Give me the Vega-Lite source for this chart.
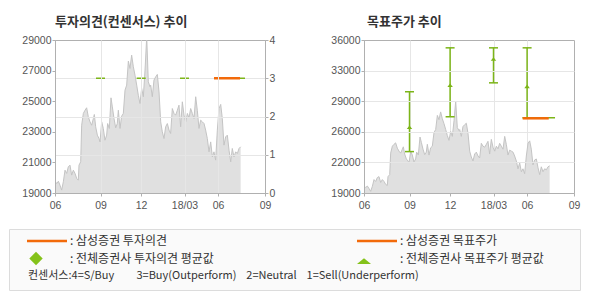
{
  "$schema": "https://vega.github.io/schema/vega-lite/v6.json",
  "background": "white",
  "padding": {"left": 8, "top": 15, "right": 4, "bottom": 4},
  "autosize": {"type": "pad"},
  "config": {
    "view": {"stroke": null},
    "font": "Noto Sans CJK KR",
    "axis": {
      "labelFont": "Liberation Sans",
      "labelFontSize": 10.5,
      "labelColor": "#555555",
      "domainColor": "#b0b0b0",
      "tickColor": "#b0b0b0",
      "tickSize": 3,
      "labelPadding": 1,
      "gridColor": "#e6e6e6",
      "labelOverlap": false,
      "labelBound": false,
      "tickCount": 10,
      "title": null
    },
    "axisX": {"labelFlush": false, "labelPadding": 4},
    "title": {"font": "Noto Sans CJK KR", "fontSize": 13, "fontWeight": "bold", "color": "#333333", "anchor": "start", "frame": "group", "baseline": "alphabetic", "offset": 6}
  },
  "datasets": {
    "price": [
      {"t": 0, "price": 19770}, {"t": 2.4, "price": 19620}, {"t": 4.8, "price": 19770}, {"t": 7.1, "price": 19510},
      {"t": 9.5, "price": 19190}, {"t": 11.9, "price": 19730}, {"t": 14.3, "price": 20490}, {"t": 16.7, "price": 20280},
      {"t": 19.0, "price": 20710}, {"t": 21.4, "price": 20820}, {"t": 23.8, "price": 20170}, {"t": 26.2, "price": 20490},
      {"t": 28.6, "price": 20280}, {"t": 31.0, "price": 19950}, {"t": 33.3, "price": 19840}, {"t": 34.3, "price": 20820},
      {"t": 36.7, "price": 21040}, {"t": 38.1, "price": 23430}, {"t": 40.5, "price": 24200}, {"t": 42.9, "price": 24410},
      {"t": 45.2, "price": 24570}, {"t": 47.6, "price": 23980}, {"t": 50.0, "price": 23650}, {"t": 52.4, "price": 23430},
      {"t": 54.8, "price": 23870}, {"t": 56.2, "price": 24130}, {"t": 58.1, "price": 23330}, {"t": 60.5, "price": 22780},
      {"t": 62.9, "price": 22560}, {"t": 64.3, "price": 22340}, {"t": 66.7, "price": 23650}, {"t": 69.0, "price": 23220},
      {"t": 71.4, "price": 22450}, {"t": 73.8, "price": 22780}, {"t": 75.2, "price": 23540}, {"t": 77.6, "price": 23220},
      {"t": 80.0, "price": 25220}, {"t": 81.9, "price": 24630}, {"t": 84.3, "price": 23870}, {"t": 86.7, "price": 23260},
      {"t": 89.0, "price": 23540}, {"t": 90.5, "price": 24410}, {"t": 92.9, "price": 23220}, {"t": 95.2, "price": 24020},
      {"t": 97.6, "price": 24200}, {"t": 100.0, "price": 25720}, {"t": 102.4, "price": 26050}, {"t": 104.8, "price": 27620},
      {"t": 107.1, "price": 27140}, {"t": 109.5, "price": 28010}, {"t": 111.9, "price": 27250}, {"t": 114.3, "price": 26700},
      {"t": 116.7, "price": 26050}, {"t": 119.0, "price": 25390}, {"t": 121.4, "price": 24850}, {"t": 123.8, "price": 25830},
      {"t": 126.2, "price": 25290}, {"t": 128.6, "price": 27030}, {"t": 131.0, "price": 29200}, {"t": 133.3, "price": 26270},
      {"t": 135.7, "price": 25940}, {"t": 136.7, "price": 26050}, {"t": 139.0, "price": 25290}, {"t": 141.4, "price": 26380},
      {"t": 143.8, "price": 26590}, {"t": 146.2, "price": 26750}, {"t": 148.6, "price": 25610}, {"t": 151.0, "price": 23650},
      {"t": 153.3, "price": 23000}, {"t": 155.7, "price": 22560}, {"t": 158.1, "price": 23330}, {"t": 160.5, "price": 23540},
      {"t": 162.9, "price": 23110}, {"t": 165.2, "price": 22890}, {"t": 167.6, "price": 24520}, {"t": 170.0, "price": 24200},
      {"t": 172.4, "price": 24090}, {"t": 174.8, "price": 24410}, {"t": 177.1, "price": 24740}, {"t": 179.5, "price": 23330},
      {"t": 181.9, "price": 24960}, {"t": 184.3, "price": 24090}, {"t": 186.7, "price": 23650}, {"t": 189.1, "price": 24200},
      {"t": 191.4, "price": 23910}, {"t": 193.8, "price": 24520}, {"t": 196.2, "price": 24200}, {"t": 198.6, "price": 23870},
      {"t": 201.0, "price": 25290}, {"t": 203.3, "price": 24410}, {"t": 205.7, "price": 23220}, {"t": 208.1, "price": 23760},
      {"t": 210.5, "price": 23650}, {"t": 212.9, "price": 23540}, {"t": 215.2, "price": 23110}, {"t": 217.6, "price": 22560},
      {"t": 220.0, "price": 21690}, {"t": 222.4, "price": 22340}, {"t": 224.8, "price": 21360}, {"t": 227.1, "price": 21690},
      {"t": 229.5, "price": 21150}, {"t": 231.9, "price": 23110}, {"t": 234.3, "price": 24520}, {"t": 236.7, "price": 24790},
      {"t": 239.0, "price": 23870}, {"t": 241.4, "price": 22130}, {"t": 243.8, "price": 22670}, {"t": 246.2, "price": 22780},
      {"t": 248.6, "price": 21800}, {"t": 251.0, "price": 21040}, {"t": 253.3, "price": 21910}, {"t": 255.7, "price": 21360},
      {"t": 258.1, "price": 21690}, {"t": 260.5, "price": 21580}, {"t": 262.9, "price": 21910}, {"t": 265.2, "price": 22020}
    ],
    "opinion": [
      {"source": "전체증권사", "start": 58.6, "end": 71.4, "opinion": 3},
      {"source": "전체증권사", "start": 116.7, "end": 129.6, "opinion": 3},
      {"source": "전체증권사", "start": 178.6, "end": 191.4, "opinion": 3},
      {"source": "전체증권사", "start": 227.1, "end": 271.4, "opinion": 3},
      {"source": "삼성증권", "start": 227.1, "end": 264.3, "opinion": 3}
    ],
    "target": [
      {"t": 65, "low": 23600, "avg": 26300, "high": 30250},
      {"t": 123, "low": 27470, "avg": 30950, "high": 35130},
      {"t": 185, "low": 31240, "avg": 33870, "high": 35130},
      {"t": 233, "low": 27360, "avg": 30830, "high": 35130}
    ],
    "targetLine": [
      {"source": "전체증권사", "start": 226.7, "end": 272.9, "target": 27360},
      {"source": "삼성증권", "start": 226.7, "end": 263.9, "target": 27300}
    ],
    "legend": [
      {"chart": "투자의견", "source": "삼성증권", "symbol": "line", "label": ": 삼성증권 투자의견"},
      {"chart": "목표주가", "source": "삼성증권", "symbol": "line", "label": ": 삼성증권 목표주가"},
      {"chart": "투자의견", "source": "전체증권사", "symbol": "diamond", "label": ": 전체증권사 투자의견 평균값"},
      {"chart": "목표주가", "source": "전체증권사", "symbol": "triangle", "label": ": 전체증권사 목표주가 평균값"},
      {"chart": "투자의견", "source": "컨센서스", "symbol": "none", "label": "컨센서스:4=S/Buy\u00a0\u00a0\u00a0\u00a0\u00a0\u00a0\u00a0\u00a0\u00a03=Buy(Outperform)\u00a0\u00a0\u00a0\u00a02=Neutral\u00a0\u00a0\u00a0\u00a01=Sell(Underperform)"}
    ]
  },
  "bounds": "full",
  "spacing": 17,
  "vconcat": [
    {
      "bounds": "flush",
      "spacing": 45,
      "hconcat": [
        {"width": 1, "height": 153, "view": {"fill": "#ffffff", "stroke": null}, "data": {"values": []}, "mark": {"type": "point", "opacity": 0}, "encoding": {}},
        {
          "bounds": "flush",
          "spacing": 99,
          "hconcat": [
            {
              "width": 210,
              "height": 153,
              "view": {"stroke": "#b0b0b0"},
              "title": {"text": "투자의견(컨센서스) 추이"},
              "layer": [
                {
                  "data": {"name": "price"},
                  "mark": {"type": "area", "color": "#e0e0e0", "clip": true},
                  "encoding": {
                    "x": {"field": "t", "type": "quantitative", "scale": {"domain": [0, 300]},
                      "axis": {"values": [0, 65, 123, 185, 233, 300],
                        "labelExpr": "datum.value === 0 ? '06' : datum.value === 65 ? '09' : datum.value === 123 ? '12' : datum.value === 185 ? '18/03' : datum.value === 233 ? '06' : '09'",
                        "grid": true,
                        "gridOpacity": {"condition": {"test": "datum.value === 0 || datum.value === 300", "value": 0}, "value": 1},
                        "zindex": 1}},
                    "y": {"field": "price", "type": "quantitative", "scale": {"domain": [19000, 29000]},
                      "axis": {"orient": "left", "values": [19000, 21000, 23000, 25000, 27000, 29000], "format": "d", "grid": false, "zindex": 1}}
                  }
                },
                {
                  "data": {"name": "price"},
                  "mark": {"type": "line", "color": "#c4c4c4", "strokeWidth": 1, "clip": true},
                  "encoding": {
                    "x": {"field": "t", "type": "quantitative", "scale": {"domain": [0, 300]}},
                    "y": {"field": "price", "type": "quantitative", "scale": {"domain": [19000, 29000]}, "axis": null}
                  }
                },
                {
                  "data": {"name": "opinion"},
                  "transform": [{"filter": "datum.source === '전체증권사'"}],
                  "mark": {"type": "rule", "color": "#7cb518", "strokeWidth": 1.5},
                  "encoding": {
                    "x": {"field": "start", "type": "quantitative", "scale": {"domain": [0, 300]}},
                    "x2": {"field": "end"},
                    "y": {"field": "opinion", "type": "quantitative", "scale": {"domain": [0, 4]},
                      "axis": {"orient": "right", "values": [0, 1, 2, 3, 4], "format": "d", "grid": true,
                        "gridOpacity": {"condition": {"test": "datum.value === 3", "value": 1}, "value": 0},
                        "zindex": 0}}
                  }
                },
                {
                  "data": {"name": "opinion"},
                  "transform": [{"filter": "datum.source === '삼성증권'"}],
                  "mark": {"type": "rule", "color": "#f26a0a", "strokeWidth": 2.5},
                  "encoding": {
                    "x": {"field": "start", "type": "quantitative", "scale": {"domain": [0, 300]}},
                    "x2": {"field": "end"},
                    "y": {"field": "opinion", "type": "quantitative", "scale": {"domain": [0, 4]},
                      "axis": {"orient": "right", "values": [1, 2], "format": "d", "grid": true, "labels": false, "ticks": false, "domain": false, "zindex": 1}}
                  }
                }
              ],
              "resolve": {"scale": {"y": "independent"}, "axis": {"y": "independent"}}
            },
            {
              "width": 210,
              "height": 153,
              "view": {"stroke": "#b0b0b0"},
              "title": {"text": "목표주가 추이", "dx": 3},
              "layer": [
                {
                  "data": {"name": "price"},
                  "mark": {"type": "area", "color": "#e0e0e0", "clip": true},
                  "encoding": {
                    "x": {"field": "t", "type": "quantitative", "scale": {"domain": [0, 300]},
                      "axis": {"values": [0, 65, 123, 185, 233, 300],
                        "labelExpr": "datum.value === 0 ? '06' : datum.value === 65 ? '09' : datum.value === 123 ? '12' : datum.value === 185 ? '18/03' : datum.value === 233 ? '06' : '09'",
                        "grid": true,
                        "gridOpacity": {"condition": {"test": "datum.value === 0 || datum.value === 300", "value": 0}, "value": 1},
                        "zindex": 0}},
                    "y": {"field": "price", "type": "quantitative", "scale": {"domain": [19000, 36000]},
                      "axis": {"orient": "left", "values": [19000, 22400, 25800, 29200, 32600, 36000],
                        "tickCount": 10,
                        "labelExpr": "format(round(datum.value / 1000) * 1000, 'd')",
                        "labelOverlap": false,
                        "grid": true,
                        "gridOpacity": {"condition": {"test": "datum.value === 19000 || datum.value === 36000", "value": 0}, "value": 1},
                        "zindex": 1}}
                  }
                },
                {
                  "data": {"name": "price"},
                  "mark": {"type": "line", "color": "#c4c4c4", "strokeWidth": 1, "clip": true},
                  "encoding": {
                    "x": {"field": "t", "type": "quantitative", "scale": {"domain": [0, 300]}},
                    "y": {"field": "price", "type": "quantitative", "scale": {"domain": [19000, 36000]}}
                  }
                },
                {
                  "data": {"name": "target"},
                  "mark": {"type": "rule", "color": "#7cb518", "strokeWidth": 1.5},
                  "encoding": {
                    "x": {"field": "t", "type": "quantitative", "scale": {"domain": [0, 300]}},
                    "y": {"field": "low", "type": "quantitative", "scale": {"domain": [19000, 36000]}},
                    "y2": {"field": "high"}
                  }
                },
                {
                  "data": {"name": "target"},
                  "mark": {"type": "tick", "orient": "horizontal", "color": "#7cb518", "size": 9, "thickness": 1.5, "opacity": 1},
                  "encoding": {
                    "x": {"field": "t", "type": "quantitative", "scale": {"domain": [0, 300]}},
                    "y": {"field": "low", "type": "quantitative", "scale": {"domain": [19000, 36000]}}
                  }
                },
                {
                  "data": {"name": "target"},
                  "mark": {"type": "tick", "orient": "horizontal", "color": "#7cb518", "size": 9, "thickness": 1.5, "opacity": 1},
                  "encoding": {
                    "x": {"field": "t", "type": "quantitative", "scale": {"domain": [0, 300]}},
                    "y": {"field": "high", "type": "quantitative", "scale": {"domain": [19000, 36000]}}
                  }
                },
                {
                  "data": {"name": "target"},
                  "mark": {"type": "point", "shape": "M0,-0.7L1,0.6L-1,0.6Z", "filled": true, "size": 30, "color": "#7cb518", "opacity": 1},
                  "encoding": {
                    "x": {"field": "t", "type": "quantitative", "scale": {"domain": [0, 300]}},
                    "y": {"field": "avg", "type": "quantitative", "scale": {"domain": [19000, 36000]}}
                  }
                },
                {
                  "data": {"name": "targetLine"},
                  "transform": [{"filter": "datum.source === '전체증권사'"}],
                  "mark": {"type": "rule", "color": "#7cb518", "strokeWidth": 1.5},
                  "encoding": {
                    "x": {"field": "start", "type": "quantitative", "scale": {"domain": [0, 300]}},
                    "x2": {"field": "end"},
                    "y": {"field": "target", "type": "quantitative", "scale": {"domain": [19000, 36000]}}
                  }
                },
                {
                  "data": {"name": "targetLine"},
                  "transform": [{"filter": "datum.source === '삼성증권'"}],
                  "mark": {"type": "rule", "color": "#f26a0a", "strokeWidth": 2.5},
                  "encoding": {
                    "x": {"field": "start", "type": "quantitative", "scale": {"domain": [0, 300]}},
                    "x2": {"field": "end"},
                    "y": {"field": "target", "type": "quantitative", "scale": {"domain": [19000, 36000]}}
                  }
                }
              ]
            }
          ]
        }
      ]
    },
    {
      "width": 571,
      "height": 61,
      "view": {"fill": "#fafafa", "stroke": "#dcdcdc"},
      "data": {"name": "legend"},
      "encoding": {
        "x": {"field": "chart", "type": "nominal", "scale": {"type": "point", "domain": ["투자의견", "목표주가"], "range": [18, 348], "padding": 0}, "axis": null},
        "y": {"field": "source", "type": "nominal", "scale": {"type": "point", "domain": ["삼성증권", "전체증권사", "컨센서스"], "range": [12, 47], "padding": 0}, "axis": null}
      },
      "layer": [
        {"transform": [{"filter": "datum.symbol === 'line'"}],
         "mark": {"type": "tick", "orient": "horizontal", "size": 40, "thickness": 2.5, "color": "#f26a0a", "opacity": 1, "xOffset": 20}},
        {"transform": [{"filter": "datum.symbol === 'diamond'"}],
         "mark": {"type": "point", "shape": "diamond", "filled": true, "size": 180, "color": "#84c21a", "opacity": 1, "xOffset": 9}},
        {"transform": [{"filter": "datum.symbol === 'triangle'"}],
         "mark": {"type": "point", "shape": "M0,-0.05L1,0.8L-1,0.8Z", "filled": true, "size": 196, "color": "#84c21a", "opacity": 1, "xOffset": 7}},
        {"transform": [{"filter": "datum.symbol !== 'none'"}],
         "mark": {"type": "text", "align": "left", "baseline": "middle", "dx": 43, "font": "Noto Sans CJK KR", "fontSize": 12, "color": "#333333"},
         "encoding": {"text": {"field": "label"}}},
        {"transform": [{"filter": "datum.symbol === 'none'"}],
         "mark": {"type": "text", "align": "left", "baseline": "middle", "dx": 1, "font": "Noto Sans CJK KR", "fontSize": 11, "color": "#333333"},
         "encoding": {"text": {"field": "label"}}}
      ]
    }
  ]
}
